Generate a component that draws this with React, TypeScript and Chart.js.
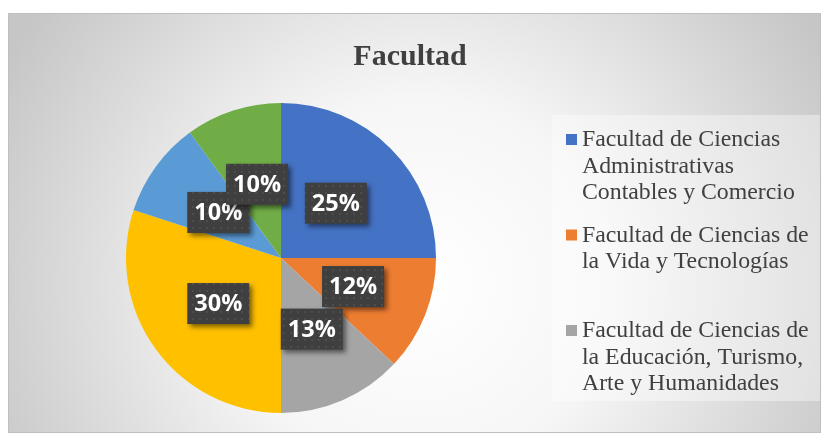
import React, { useEffect, useRef } from "react";
import { Chart, registerables } from "chart.js";

Chart.register(...registerables);

const chartTitle = "Facultad";
const categories = [
  "Facultad de Ciencias Administrativas Contables y Comercio",
  "Facultad de Ciencias de la Vida y Tecnologías",
  "Facultad de Ciencias de la Educación, Turismo, Arte y Humanidades",
  "Facultad de Ciencias Sociales, Derecho y Bienestar",
  "Facultad de Ciencias de la Salud",
  "Facultad de Ingeniería, Industria y Arquitectura",
];
const shares = [25, 12, 13, 30, 10, 10];
const sliceColors = ["#4472C4", "#ED7D31", "#A5A5A5", "#FFC000", "#5B9BD5", "#70AD47"];
// Legend entries visible in the picture (Excel truncated the legend to 3 entries)
const legendLines = [
  ["Facultad de Ciencias", "Administrativas", "Contables y Comercio"],
  ["Facultad de Ciencias de", "la Vida y Tecnologías"],
  ["Facultad de Ciencias de", "la Educación, Turismo,", "Arte y Humanidades"],
];

const TEXT_DARK = "#404040";

function makeDotPattern(ctx: CanvasRenderingContext2D) {
  const c = document.createElement("canvas");
  c.width = 7;
  c.height = 7;
  const p = c.getContext("2d")!;
  p.fillStyle = "#3f3f3f";
  p.fillRect(0, 0, 7, 7);
  p.fillStyle = "#4d4d4d";
  p.fillRect(3, 3, 2, 2);
  return ctx.createPattern(c, "repeat");
}

const framePlugin = {
  id: "frameAndLegend",
  beforeDraw(chart: any) {
    const ctx: CanvasRenderingContext2D = chart.ctx;
    ctx.save();
    const g = ctx.createRadialGradient(420, 285, 0, 420, 285, 470);
    g.addColorStop(0, "#ffffff");
    g.addColorStop(0.4, "#f6f6f6");
    g.addColorStop(1, "#c6c6c6");
    ctx.fillStyle = g;
    ctx.fillRect(8, 13, 813, 420);
    ctx.strokeStyle = "#bfbfbf";
    ctx.lineWidth = 1;
    ctx.strokeRect(8.5, 13.5, 812, 419);

    // legend background
    ctx.fillStyle = "rgba(255,255,255,0.38)";
    ctx.fillRect(552, 115, 268, 286);

    // title
    ctx.fillStyle = TEXT_DARK;
    ctx.font = "bold 30px 'Liberation Serif'";
    ctx.textAlign = "center";
    ctx.textBaseline = "alphabetic";
    ctx.fillText(chartTitle, 410, 65);

    // legend
    const colors = chart.data.datasets[0].backgroundColor as string[];
    ctx.font = "23.8px 'Liberation Serif'";
    ctx.textAlign = "left";
    legendLines.forEach((lines, i) => {
      const base = 146 + i * 95.5;
      ctx.fillStyle = colors[i];
      ctx.fillRect(566, base - 12, 11, 11);
      ctx.fillStyle = TEXT_DARK;
      lines.forEach((t, j) => ctx.fillText(t, 582, base + j * 26.5));
    });
    ctx.restore();
  },
};

const labelPlugin = {
  id: "boxLabels",
  afterDatasetsDraw(chart: any) {
    const ctx: CanvasRenderingContext2D = chart.ctx;
    const meta = chart.getDatasetMeta(0);
    const values = chart.data.datasets[0].data as number[];
    const total = values.reduce((a, b) => a + b, 0);
    const pattern = makeDotPattern(ctx);
    const w = 62;
    const h = 41;
    meta.data.forEach((arc: any, i: number) => {
      const { x, y } = arc.getCenterPoint();
      ctx.save();
      ctx.shadowColor = "rgba(0,0,0,0.5)";
      ctx.shadowBlur = 5;
      ctx.shadowOffsetX = 3;
      ctx.shadowOffsetY = 3;
      ctx.fillStyle = pattern || "#404040";
      ctx.fillRect(x - w / 2, y - h / 2, w, h);
      ctx.restore();
      ctx.save();
      ctx.fillStyle = "#ffffff";
      ctx.font = "bold 23.5px 'Open Sans'";
      ctx.textAlign = "center";
      ctx.textBaseline = "middle";
      const pct = Math.round((values[i] / total) * 100) + "%";
      ctx.fillText(pct, x, y + 1);
      ctx.restore();
    });
  },
};

export default function App() {
  const ref = useRef<HTMLCanvasElement | null>(null);
  useEffect(() => {
    if (!ref.current) return;
    const chart = new Chart(ref.current, {
      type: "pie",
      data: {
        labels: categories,
        datasets: [
          {
            data: shares,
            backgroundColor: sliceColors,
            borderWidth: 0,
            hoverOffset: 0,
            offset: 0,
          },
        ],
      },
      options: {
        responsive: false,
        devicePixelRatio: 1,
        animation: false,
        events: [],
        layout: { padding: { left: 126, right: 387, top: 103, bottom: 22 } },
        plugins: {
          legend: { display: false },
          tooltip: { enabled: false },
          title: { display: false },
        },
      },
      plugins: [framePlugin, labelPlugin],
    });
    return () => chart.destroy();
  }, []);
  return (
    <div style={{ position: "absolute", left: 0, top: 0, width: 823, height: 435 }}>
      <canvas ref={ref} width={823} height={435} style={{ display: "block" }} />
    </div>
  );
}
